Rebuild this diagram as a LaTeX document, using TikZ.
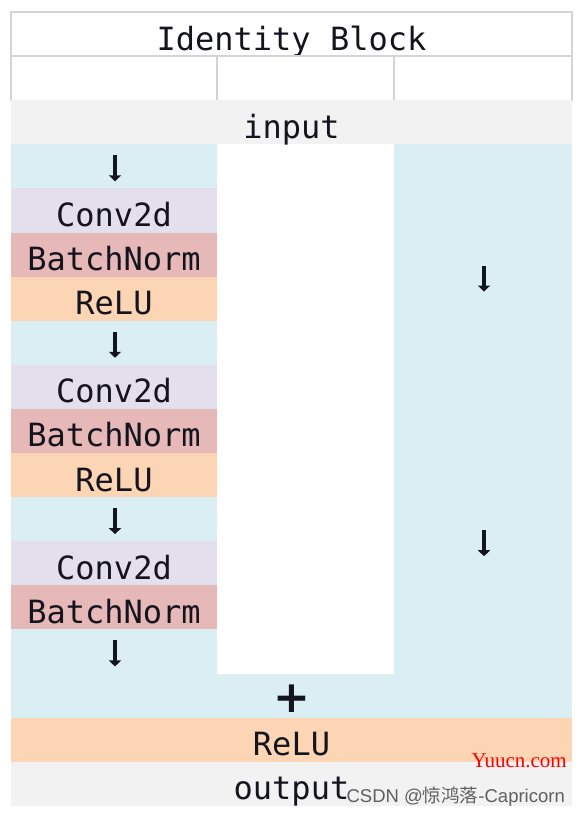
\documentclass[tikz,border=0pt]{standalone}
\usepackage{fontspec}
\setmonofont{DejaVu Sans Mono}
\newfontfamily\plusfont{DejaVu Sans}
\newfontfamily\markfont{Liberation Serif}
\newfontfamily\wmfont{Liberation Sans}
\newfontfamily\cjkfont{Noto Sans CJK SC}
\usetikzlibrary{positioning, arrows.meta}
\definecolor{CellBlue}{RGB}{218,238,243}
\definecolor{ConvLilac}{RGB}{228,223,236}
\definecolor{NormRose}{RGB}{230,184,183}
\definecolor{ReluPeach}{RGB}{252,213,180}
\definecolor{IOGrey}{RGB}{242,242,242}
\definecolor{GridGrey}{RGB}{212,212,212}
\definecolor{TextDark}{RGB}{20,20,30}
\definecolor{WaterRed}{RGB}{255,0,0}
\definecolor{WaterGrey}{RGB}{95,95,95}

\begin{document}
\begin{tikzpicture}[
    x=1pt, y=1pt,
    node distance = 0pt,
    box/.style = {rectangle, inner sep=0pt, outer sep=0pt, minimum height=44.1pt, text height=32pt, text depth=0pt, font=\ttfamily\fontsize{32}{32}\selectfont, text=TextDark},
    wide/.style = {box, minimum width=561pt},
    narrow/.style = {box, minimum width=206pt},
    header/.style = {wide, draw=GridGrey, line width=1.2pt},
    blank/.style = {box, draw=GridGrey, line width=1.2pt},
    gap/.style = {narrow, fill=CellBlue},
    conv/.style = {narrow, fill=ConvLilac},
    norm/.style = {narrow, fill=NormRose},
    relu/.style = {narrow, fill=ReluPeach},
    io/.style = {wide, fill=IOGrey},
    skip/.style = {box, minimum width=178pt, minimum height=264.6pt, fill=CellBlue},
    flow/.style = {-{Triangle[width=12pt, length=6pt]}, line width=4.5pt, draw=TextDark}
]
\useasboundingbox (0,0) rectangle (580,-816);
% Header rows
\node[header, anchor=north west] (title) at (11,-12) {Identity Block};
\node[blank, minimum width=206pt, below right=of title.south west] (e1) {};
\node[blank, minimum width=177pt, right=of e1] (e2) {};
\node[blank, minimum width=178pt, right=of e2] (e3) {};
\node[io, below right=of e1.south west] (input) {input};
% Main branch
\node[gap, below right=of input.south west] (a1) {};
\node[conv, below=of a1] (c1) {Conv2d};
\node[norm, below=of c1] (b1) {BatchNorm};
\node[relu, below=of b1] (r1) {ReLU};
\node[gap, below=of r1] (a2) {};
\node[conv, below=of a2] (c2) {Conv2d};
\node[norm, below=of c2] (b2) {BatchNorm};
\node[relu, below=of b2] (r2) {ReLU};
\node[gap, below=of r2] (a3) {};
\node[conv, below=of a3] (c3) {Conv2d};
\node[norm, below=of c3] (b3) {BatchNorm};
\node[gap, below=of b3] (a4) {};
% Shortcut branch
\node[skip, below left=of input.south east] (s1) {};
\node[skip, below=of s1] (s2) {};
% Merge and output
\node[wide, fill=CellBlue, below right=of a4.south west] (sum) {};
\node[font=\plusfont\bfseries\fontsize{44}{44}\selectfont, text=TextDark, inner sep=0pt] (plus) at ([yshift=-3pt]sum.center) {+};
\node[wide, fill=ReluPeach, below=of sum] (r4) {ReLU};
\node[io, below=of r4] (output) {output};

\foreach \g in {a1,a2,a3,a4,s1,s2}
    \draw[flow] ([xshift=1pt,yshift=11pt]\g.center) -- ([xshift=1pt,yshift=-15pt]\g.center);

% Watermarks
\node[font=\markfont\fontsize{21}{21}\selectfont, text=WaterRed, anchor=base east, inner sep=0pt] (site) at (567,-767) {Yuucn.com};
\node[font=\wmfont\fontsize{18.5}{18.5}\selectfont, text=WaterGrey, anchor=base east, inner sep=0pt] (credit) at (565,-802) {CSDN @{\cjkfont 惊鸿落}-Capricorn};
\end{tikzpicture}
\end{document}
